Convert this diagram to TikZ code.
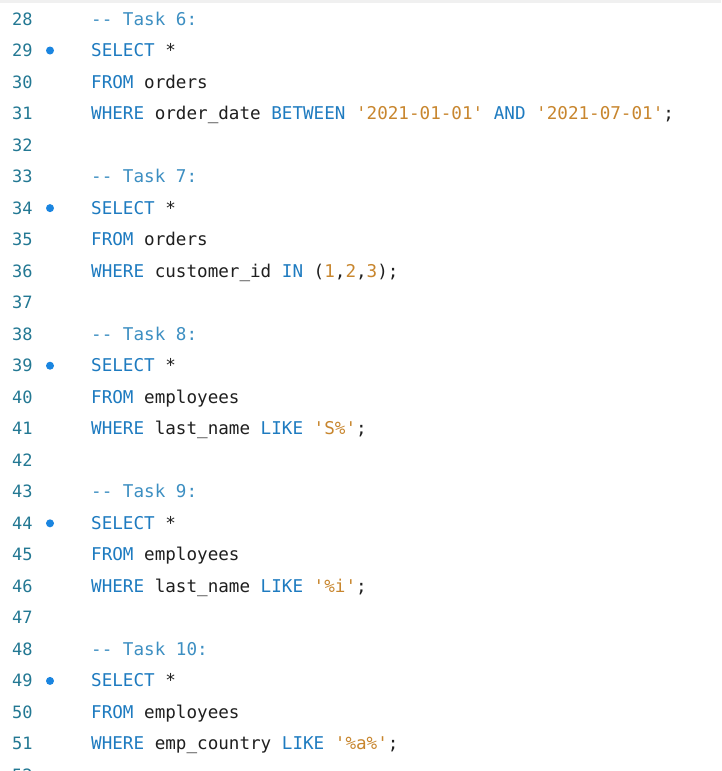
\documentclass[tikz,border=0pt]{standalone}
\usepackage{fontspec}
\newfontfamily\code{DejaVu Sans Mono}
\definecolor{ln}{HTML}{237893}
\definecolor{kw}{HTML}{1E7BC0}
\definecolor{cm}{HTML}{3D8FC2}
\definecolor{st}{HTML}{C8862E}
\definecolor{tx}{HTML}{1F1F1F}
\definecolor{dot}{HTML}{1A85E0}
\newcommand{\K}[1]{\textcolor{kw}{#1}}
\newcommand{\St}[1]{\textcolor{st}{#1}}
\newcommand{\Q}{\char39\relax}
\begin{document}
\begin{tikzpicture}[x=1pt,y=-1pt,
  lnum/.style={anchor=base west,inner sep=0,text=ln,font=\code\fontsize{17pt}{17pt}\selectfont},
  src/.style={anchor=base west,inner sep=0,text=tx,font=\code\fontsize{17.6pt}{17.6pt}\selectfont}]
\useasboundingbox (0,0) rectangle (721,771);
\fill[white] (0,0) rectangle (721,771);
\fill[gray!12] (0,0) rectangle (721,3);
\foreach \n [count=\i from 0] in {28,...,52}{
  \node[lnum] (n\n) at (12,{25+31.52*\i}) {\n};
}
\foreach \i in {1,6,11,16,21}{
  \fill[dot] (50,{19+31.52*\i}) circle (4);
}
\def\r#1#2{\node[src] (c#1) at (91,{25+31.52*(#1-28)}) {#2};}
\r{28}{\textcolor{cm}{-{}- Task 6:}}
\r{29}{\K{SELECT} *}
\r{30}{\K{FROM} orders}
\r{31}{\K{WHERE} order\_date \K{BETWEEN} \St{\Q 2021-01-01\Q} \K{AND} \St{\Q 2021-07-01\Q};}
\r{33}{\textcolor{cm}{-{}- Task 7:}}
\r{34}{\K{SELECT} *}
\r{35}{\K{FROM} orders}
\r{36}{\K{WHERE} customer\_id \K{IN} (\St{1},\St{2},\St{3});}
\r{38}{\textcolor{cm}{-{}- Task 8:}}
\r{39}{\K{SELECT} *}
\r{40}{\K{FROM} employees}
\r{41}{\K{WHERE} last\_name \K{LIKE} \St{\Q S\%\Q};}
\r{43}{\textcolor{cm}{-{}- Task 9:}}
\r{44}{\K{SELECT} *}
\r{45}{\K{FROM} employees}
\r{46}{\K{WHERE} last\_name \K{LIKE} \St{\Q\%i\Q};}
\r{48}{\textcolor{cm}{-{}- Task 10:}}
\r{49}{\K{SELECT} *}
\r{50}{\K{FROM} employees}
\r{51}{\K{WHERE} emp\_country \K{LIKE} \St{\Q\%a\%\Q};}
\end{tikzpicture}
\end{document}
